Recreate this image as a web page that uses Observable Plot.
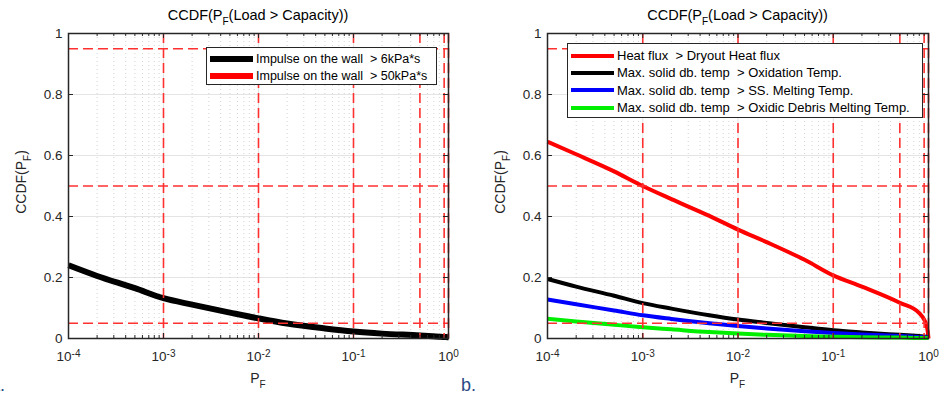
<!DOCTYPE html>
<html><head><meta charset="utf-8">
<script src="https://cdn.jsdelivr.net/npm/d3@7"></script>
<script src="https://cdn.jsdelivr.net/npm/@observablehq/plot@0.6"></script>
<style>
body{margin:0;background:#fff;font-family:"Liberation Sans",Arial,Helvetica,sans-serif;}
#wrap{position:relative;width:951px;height:396px;overflow:hidden;background:#fff;}
.panel{position:absolute;top:0;}
.txt{position:absolute;white-space:nowrap;line-height:0;color:#000;}
.sub{font-size:10px;position:relative;top:5px;}
.ylab{position:absolute;white-space:nowrap;font-size:14px;color:#262626;transform:translate(-50%,-50%) rotate(-90deg);line-height:18px;}
.legend{position:absolute;background:#fff;border:1px solid #262626;box-sizing:border-box;padding:3px 0 0 3px;color:#000;}
.row{display:flex;align-items:center;white-space:pre;}
.sw{width:43px;margin-right:3px;flex:none;}
.tag{position:absolute;font-size:18px;color:#2a4a86;line-height:18px;z-index:5;}
</style></head>
<body><div id="wrap"></div>
<script>
// ---- data ----
const pf = [1e-4, 2e-4, 5e-4, 1e-3, 2e-3, 5e-3, 1e-2, 2e-2, 5e-2, 0.1, 0.2, 0.5, 0.8, 0.9, 0.95, 0.98, 0.99, 1];
const impulse6 = [0.240, 0.205, 0.165, 0.132, 0.111, 0.085, 0.066, 0.049, 0.033, 0.023, 0.016, 0.010, 0.006, 0.005, 0.005, 0.004, 0.004, 0.004];
const impulse50 = []; // not visible in the reference
const heatFlux = [0.645, 0.604, 0.548, 0.500, 0.457, 0.402, 0.357, 0.316, 0.258, 0.207, 0.170, 0.117, 0.083, 0.062, 0.045, 0.025, 0.013, 0.000];
const oxidation = [0.195, 0.170, 0.140, 0.116, 0.098, 0.076, 0.062, 0.051, 0.037, 0.027, 0.020, 0.012, 0.008, 0.007, 0.006, 0.005, 0.005, 0.005];
const ssMelting = [0.128, 0.112, 0.092, 0.076, 0.064, 0.050, 0.041, 0.033, 0.024, 0.018, 0.013, 0.008, 0.005, 0.004, 0.004, 0.003, 0.003, 0.003];
const oxidicMelting = [0.065, 0.056, 0.045, 0.037, 0.030, 0.021, 0.016, 0.012, 0.008, 0.006, 0.004, 0.003, 0.002, 0.002, 0.002, 0.002, 0.002, 0.002];

const xTicks = [1e-4, 1e-3, 1e-2, 1e-1, 1];
const yTicks = [0, 0.2, 0.4, 0.6, 0.8, 1];
const yGrid = [0.2, 0.4, 0.6, 0.8];
const minorX = [];
for (const d of [1e-4, 1e-3, 1e-2, 1e-1]) for (const m of [2,3,4,5,6,7,8,9]) minorX.push(+(d*m).toPrecision(3));
const refX = [1e-3, 1e-2, 1e-1, 0.5, 0.9, 1];
const refY = [0.05, 0.5, 0.95];

const leftSeries = [
  {label: "Impulse on the wall  > 6kPa*s", color: "#000000", values: impulse6},
  {label: "Impulse on the wall  > 50kPa*s", color: "#ff0000", values: impulse50}
];
const rightSeries = [
  {label: "Heat flux  > Dryout Heat flux", color: "#ff0000", values: heatFlux},
  {label: "Max. solid db. temp  > Oxidation Temp.", color: "#000000", values: oxidation},
  {label: "Max. solid db. temp  > SS. Melting Temp.", color: "#0000ff", values: ssMelting},
  {label: "Max. solid db. temp  > Oxidic Debris Melting Temp.", color: "#00ee00", values: oxidicMelting}
];

const titleText = 'CCDF(P<span class="sub">F</span>(Load &gt; Capacity))';
const xLabelText = 'P<span class="sub">F</span>';

const wrap = document.getElementById("wrap");
const H = 396, MT = 33, MB = 58, ML = 68;
const ph = H - MT - MB;

function panel(left, width, marginRight, series, lineWidth, legendBox) {
  const pw = width - ML - marginRight;
  const marks = [
    Plot.ruleY(yGrid, {stroke: "#e4e4e4", strokeWidth: 1}),
    Plot.ruleX(xTicks, {stroke: "#e4e4e4", strokeWidth: 1}),
    Plot.ruleX(minorX, {stroke: "#d4d4d4", strokeWidth: 1, strokeDasharray: "1,3"}),
  ];
  for (const s of series) {
    if (!s.values.length) continue;
    marks.push(Plot.line(s.values.map((v, i) => ({x: pf[i], y: v})), {x: "x", y: "y", stroke: s.color, strokeWidth: lineWidth, curve: "monotone-x", strokeLinecap: "butt"}));
  }
  marks.push(
    Plot.ruleX(refX, {stroke: "#ff3030", strokeWidth: 1.6, strokeDasharray: "10,5"}),
    Plot.ruleY(refY, {stroke: "#ff3030", strokeWidth: 1.6, strokeDasharray: "10,5"}),
    Plot.tickX(xTicks, {x: d => d, stroke: "#262626", insetTop: ph - 5}),
    Plot.tickX(xTicks, {x: d => d, stroke: "#262626", insetBottom: ph - 5}),
    Plot.tickX(minorX, {x: d => d, stroke: "#262626", insetTop: ph - 3}),
    Plot.tickX(minorX, {x: d => d, stroke: "#262626", insetBottom: ph - 3}),
    Plot.tickY(yTicks, {y: d => d, stroke: "#262626", insetRight: pw - 5}),
    Plot.tickY(yTicks, {y: d => d, stroke: "#262626", insetLeft: pw - 5}),
    Plot.frame({stroke: "#262626", strokeWidth: 1.5}),
    Plot.axisX(xTicks, {tickSize: 0, tickPadding: 13, tickFormat: d => "10|" + Math.round(Math.log10(d)), fontSize: 13.5, fill: "#262626"}),
    Plot.axisY(yTicks, {tickSize: 0, tickPadding: 6, tickFormat: d => String(d), fontSize: 13.5, fill: "#262626"})
  );
  const svg = Plot.plot({
    width, height: H,
    marginLeft: ML, marginRight, marginTop: MT, marginBottom: MB,
    style: {fontFamily: '"Liberation Sans", Arial, sans-serif', background: "transparent", overflow: "visible"},
    x: {type: "log", domain: [1e-4, 1], label: null},
    y: {domain: [0, 1], label: null},
    marks
  });
  svg.classList.add("panel");
  svg.style.left = left + "px";
  wrap.appendChild(svg);
  svg.querySelectorAll('g[aria-label="x-axis tick label"] text').forEach(t => {
    const [base, exp] = t.textContent.split("|");
    t.textContent = "";
    const a = document.createElementNS("http://www.w3.org/2000/svg", "tspan");
    a.textContent = base;
    const b = document.createElementNS("http://www.w3.org/2000/svg", "tspan");
    b.textContent = exp; b.setAttribute("font-size", "10"); b.setAttribute("dy", "-0.45em");
    t.appendChild(a); t.appendChild(b);
  });
  const cx = left + ML + pw / 2;
  const tt = document.createElement("div");
  tt.className = "txt"; tt.style.fontSize = "14.5px";
  tt.innerHTML = titleText; tt.style.top = "15px"; tt.style.left = cx + "px";
  tt.style.transform = "translateX(-50%)";
  wrap.appendChild(tt);
  const xl = document.createElement("div");
  xl.className = "txt"; xl.style.fontSize = "14px"; xl.style.color = "#262626";
  xl.innerHTML = xLabelText; xl.style.top = "378px"; xl.style.left = cx + "px";
  xl.style.transform = "translateX(-50%)";
  wrap.appendChild(xl);
  const yl = document.createElement("div");
  yl.className = "ylab"; yl.innerHTML = 'CCDF(P<span style="font-size:10px;position:relative;top:5px;">F</span>)';
  yl.style.left = (left + 22) + "px"; yl.style.top = "182px";
  wrap.appendChild(yl);
  const lg = document.createElement("div");
  lg.className = "legend";
  Object.assign(lg.style, {left: legendBox.x + "px", top: legendBox.y + "px", width: legendBox.w + "px", height: legendBox.h + "px", fontSize: legendBox.fs + "px"});
  for (const s of series) {
    const r = document.createElement("div");
    r.className = "row"; r.style.height = legendBox.rowH + "px";
    const sw = document.createElement("div");
    sw.className = "sw"; sw.style.height = legendBox.swH + "px"; sw.style.background = s.color;
    const lb = document.createElement("span"); lb.textContent = s.label;
    r.appendChild(sw); r.appendChild(lb);
    lg.appendChild(r);
  }
  wrap.appendChild(lg);
}

panel(0, 475, 27, leftSeries, 6, {x: 206, y: 47, w: 231, h: 38, rowH: 16.5, swH: 6, fs: 12.5});
panel(479, 472, 23, rightSeries, 4, {x: 567, y: 43, w: 356, h: 75, rowH: 17.3, swH: 4, fs: 13});

const ta = document.createElement("div"); ta.className = "tag"; ta.textContent = "a.";
ta.style.left = "-10px"; ta.style.top = "376px"; wrap.appendChild(ta);
const tb = document.createElement("div"); tb.className = "tag"; tb.textContent = "b.";
tb.style.left = "461px"; tb.style.top = "376px"; wrap.appendChild(tb);
</script></body></html>
